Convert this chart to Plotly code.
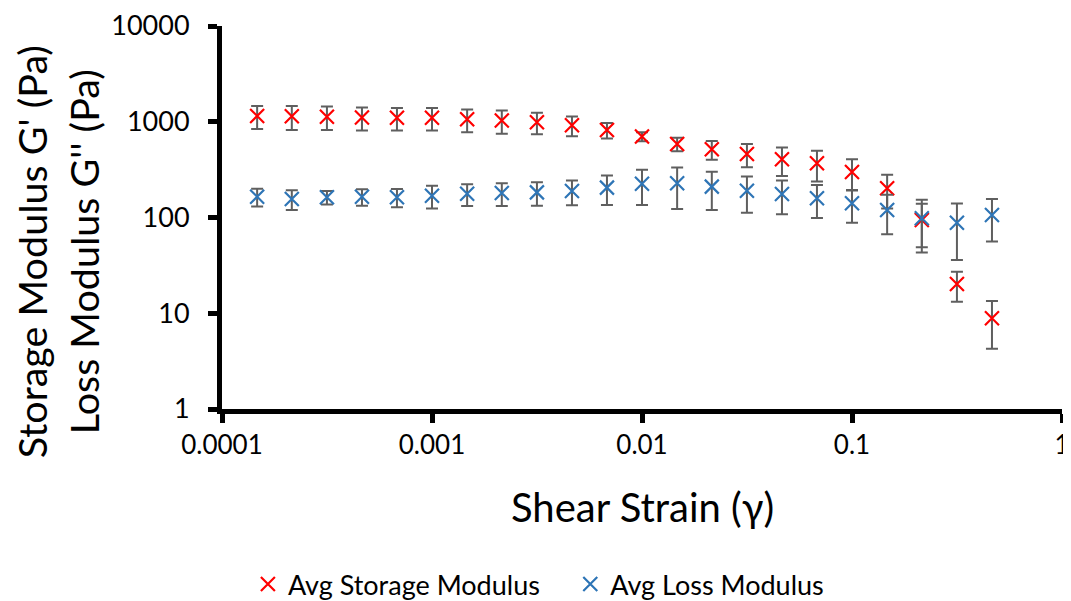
import plotly.graph_objects as go

strain = [0.000147, 0.000215, 0.000316, 0.000464, 0.000681, 0.001, 0.00147,
          0.00215, 0.00316, 0.00464, 0.00681, 0.01, 0.0147, 0.0215, 0.0316,
          0.0464, 0.0681, 0.1, 0.147, 0.215, 0.316, 0.464]

storage_avg = [1150, 1140, 1130, 1110, 1100, 1100, 1060, 1030, 990, 920, 820, 700,
               586, 515, 460, 405, 368, 299, 202, 94, 20.2, 8.85]
storage_err = [312, 320, 310, 300, 290, 290, 285, 280, 250, 215, 150, 75,
               95, 113, 125, 133, 130, 108, 78, 45, 7, 4.6]

loss_avg = [165, 156, 163, 165, 163, 169, 177, 180, 183, 189, 205, 225,
            228, 210, 190, 176, 159, 141, 120, 98, 88, 106]
loss_err = [35, 36, 26, 32, 35, 45, 45, 48, 50, 55, 70, 90,
            105, 90, 78, 68, 60, 53, 53, 55, 52, 50]

x_ticks = [0.0001, 0.001, 0.01, 0.1, 1]
x_tick_text = ['0.0001', '0.001', '0.01', '0.1', '1']
y_ticks = [1, 10, 100, 1000, 10000]
y_tick_text = ['1', '10', '100', '1000', '10000']

FONT = 'Lato'
ERR_COLOR = '#5f5f5f'


def err_bars(vals):
    return dict(type='data', array=vals, symmetric=True,
                color=ERR_COLOR, thickness=2, width=6)


fig = go.Figure()

fig.add_trace(go.Scatter(
    x=strain, y=storage_avg, mode='markers', name='Avg Storage Modulus',
    marker=dict(symbol='x-thin', size=14, line=dict(color='#ff0000', width=2.2)),
    error_y=err_bars(storage_err), legend='legend',
))
fig.add_trace(go.Scatter(
    x=strain, y=loss_avg, mode='markers', name='Avg Loss Modulus',
    marker=dict(symbol='x-thin', size=14, line=dict(color='#2e75b6', width=2.2)),
    error_y=err_bars(loss_err), legend='legend2',
))

# axis titles as annotations so they can be placed like the original
fig.add_annotation(
    text="Storage Modulus G' (Pa)<br>Loss Modulus G'' (Pa)",
    xref='paper', yref='paper', x=-0.196, y=0.41,
    xanchor='center', yanchor='middle', textangle=-90,
    showarrow=False, font=dict(size=39.5),
)
fig.add_annotation(
    text='Shear Strain (γ)',
    xref='paper', yref='paper', x=0.5, y=-0.256,
    xanchor='center', yanchor='middle',
    showarrow=False, font=dict(size=40),
)

legend_style = dict(
    orientation='h', xref='container', yref='container',
    xanchor='left', y=0.0, yanchor='bottom',
    font=dict(size=27), itemwidth=30,
)

# the page body adds an 8px offset, so margins are trimmed to compensate
fig.update_layout(
    width=1071, height=601,
    paper_bgcolor='white', plot_bgcolor='white',
    margin=dict(l=214, r=17, t=18, b=200),
    font=dict(family=FONT, color='black', size=27),
    showlegend=True,
    legend=dict(x=0.224, **legend_style),
    legend2=dict(x=0.525, **legend_style),
    xaxis=dict(
        type='log', range=[-4, 0], automargin=False,
        tickvals=x_ticks, ticktext=x_tick_text,
        showgrid=False, zeroline=False,
        showline=True, linecolor='black', linewidth=5,
        ticks='outside', ticklen=9, tickwidth=5, tickcolor='black',
        tickfont=dict(size=26), ticklabelstandoff=0,
    ),
    yaxis=dict(
        type='log', range=[0, 4], automargin=False,
        tickvals=y_ticks, ticktext=y_tick_text,
        showgrid=False, zeroline=False,
        showline=True, linecolor='black', linewidth=5,
        ticks='outside', ticklen=9, tickwidth=5, tickcolor='black',
        tickfont=dict(size=27), ticklabelstandoff=13,
    ),
    yaxis2=dict(
        type='log', range=[0, 4], overlaying='y', side='left',
        tickvals=y_ticks, showticklabels=False, automargin=False,
        showgrid=False, zeroline=False, showline=False,
        ticks='inside', ticklen=9, tickwidth=5, tickcolor='black',
    ),
)

fig.write_html("out.html")
